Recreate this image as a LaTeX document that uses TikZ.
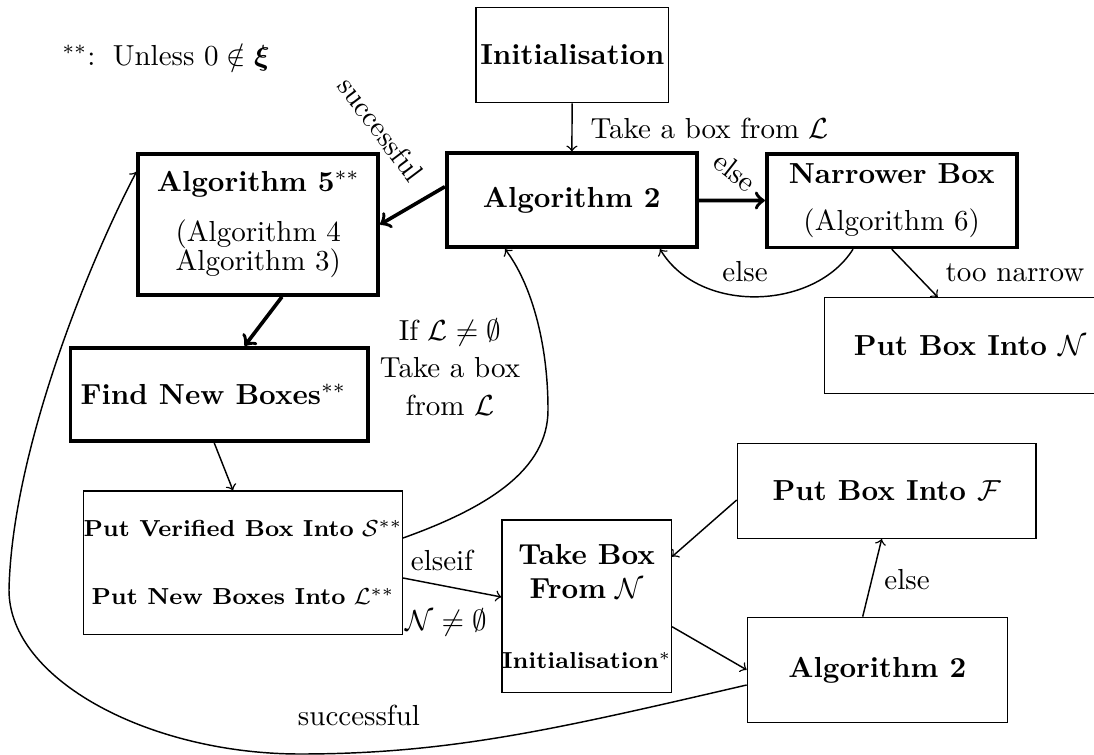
\documentclass[tikz,border=0pt]{standalone}
\usepackage{amsmath,amssymb,bm}
\usetikzlibrary{calc}
\tikzset{
  sz/.style 2 args={minimum width={#1*0.345pt},minimum height={#2*0.345pt}},
  thinbox/.style={draw,line width=0.45pt,inner sep=0pt,align=center},
  thickbox/.style={draw,line width=1.25pt,inner sep=0pt,align=center},
  arr/.style={->,line width=0.5pt},
  tarr/.style={->,line width=1.25pt},
  lbl/.style={inner sep=0pt,align=center},
}
\begin{document}
\begin{tikzpicture}[x=0.345pt,y=-0.345pt]
\useasboundingbox (0,0) rectangle (1094,755);
% boxes
\node[thinbox,sz={192.7}{95.4},font=\bfseries] (init) at (572.3,55) {Initialisation};
\node[thickbox,sz={250}{94},font=\bfseries] (alga) at (571.7,200.3) {Algorithm 2};
\node[thickbox,sz={250}{93.3}] (nar) at (891.7,200.7) {\textbf{Narrower Box}\\[4pt](Algorithm 6)};
\node[thickbox,sz={240}{141}] (alg5) at (258.3,224.5) {\textbf{Algorithm 5}$^{**}$\\[5.5pt](Algorithm 4\\[-2pt]Algorithm 3)};
\node[thinbox,sz={291.4}{95.6},font=\bfseries] (putN) at (970,345.5) {Put Box Into $\mathcal{N}$};
\node[thickbox,sz={297.5}{93.3}] (fnb) at (219.2,394.4) {\textbf{Find New Boxes}$^{**}$\hspace{4pt}};
\node[thinbox,sz={309}{143.3},font=\footnotesize] (store) at (243,562.7) {\textbf{Put Verified Box Into} $\mathcal{S}^{**}$\\[14pt]\textbf{Put New Boxes Into} $\mathcal{L}^{**}$};
\node[thinbox,sz={163.3}{172.7}] (take) at (586.7,606.3) {\textbf{Take Box}\\\textbf{From} $\mathcal{N}$\\[12pt]{\footnotesize\bfseries Initialisation$^{*}$}};
\node[thinbox,sz={298.7}{95},font=\bfseries] (putF) at (886.7,490.8) {Put Box Into $\mathcal{F}$};
\node[thinbox,sz={260}{105},font=\bfseries] (algb) at (877.3,669.8) {Algorithm 2};
% labels
\node[lbl] (foot) at (166,57) {$^{**}$:\hspace{6pt}Unless $0\notin\bm{\xi}$};
\node[lbl,anchor=base west] (l1) at (590,139) {Take a box from $\mathcal{L}$};
\node[lbl,rotate=-38] (l2) at (735,172) {else};
\node[lbl,rotate=-53] (l3) at (381,129) {successful};
\node[lbl] (l4) at (745,272) {else};
\node[lbl] (l5) at (1015,273) {too narrow};
\node[lbl] (l6) at (450,367) {If $\mathcal{L}\neq\emptyset$\\[1pt]Take a box\\[1pt]from $\mathcal{L}$};
\node[lbl] (l7) at (442,560) {elseif};
\node[lbl] (l8) at (446,622) {$\mathcal{N}\neq\emptyset$};
\node[lbl] (l9) at (907,580) {else};
\node[lbl] (l10) at (359,715) {successful};
% connectors
\draw[arr] (init) -- (alga);
\draw[tarr] (alga) -- (nar);
\draw[tarr] ($(alga.west)+(0,-13.6)$) -- (alg5.east);
\draw[tarr] ($(alg5.south)+(23.7,0)$) -- ($(fnb.north)+(25.4,0)$);
\draw[arr] ($(fnb.south)+(-5,0)$) -- ($(store.north)+(-10,0)$);
\draw[arr] (nar.south) -- ($(putN.north west)+(114,0)$);
\draw[arr] ($(nar.south)+(-38.7,0)$) .. controls (815,310) and (700,315) .. ($(alga.south)+(88.3,0)$);
\draw[arr] ($(store.east)+(0,-24.7)$) .. controls (487,508) and (548,470) .. (548,410) .. controls (548,340) and (530,282) .. ($(alga.south)+(-66.7,0)$);
\draw[arr] ($(store.east)+(0,15.3)$) -- ($(take.west)+(0,-9.3)$);
\draw[arr] ($(putF.west)+(0,9.2)$) -- ($(take.east)+(0,-49.6)$);
\draw[arr] ($(take.east)+(0,20.4)$) -- (algb.west);
\draw[arr] ($(algb.north)+(-14.6,0)$) -- ($(putF.south)+(-5,0)$);
\draw[arr] ($(algb.west)+(0,15.2)$) .. controls (557,729) and (450,754) .. (300,754) .. controls (150,754) and (9,680) .. (9,590) .. controls (12,450) and (90,260) .. ($(alg5.west)+(0,-52.8)$);
\end{tikzpicture}
\end{document}
